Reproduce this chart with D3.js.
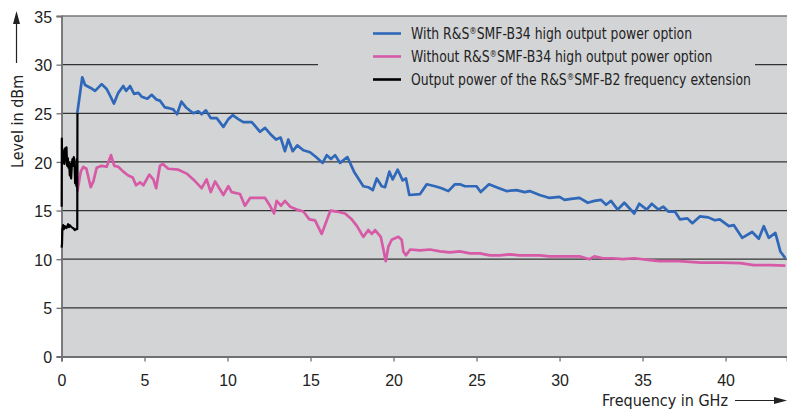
<!DOCTYPE html>
<html>
<head>
<meta charset="utf-8">
<script src="https://cdn.jsdelivr.net/npm/d3@7"></script>
<style>
  html, body { margin: 0; padding: 0; background: #fff; }
  svg { display: block; font-family: "DejaVu Sans Condensed", "DejaVu Sans", sans-serif; }
</style>
</head>
<body>
<div id="chart"></div>
<script>
// [GHz, dBm]
const withB34 = [
  [0.95, 25.0], [1.25, 28.7], [1.42, 27.9], [1.76, 27.6], [2.02, 27.3], [2.42, 28.0], [2.72, 27.5],
  [2.96, 26.7], [3.16, 26.0], [3.42, 27.1], [3.72, 27.8], [3.89, 27.3], [4.13, 27.8], [4.37, 27.0],
  [4.63, 27.1], [4.83, 26.7], [5.17, 26.5], [5.43, 26.9], [5.73, 26.4], [5.93, 26.3], [6.23, 25.6],
  [6.54, 25.5], [6.73, 25.4], [6.96, 24.9], [7.22, 26.2], [7.5, 25.6], [7.94, 25.0], [8.24, 25.2],
  [8.44, 24.9], [8.7, 25.3], [8.99, 24.5], [9.35, 24.5], [9.75, 23.6], [10.05, 24.4], [10.31, 24.8],
  [10.65, 24.4], [10.95, 24.1], [11.46, 24.1], [11.96, 23.1], [12.26, 23.5], [12.56, 22.9],
  [12.92, 22.3], [13.2, 22.5], [13.46, 21.1], [13.66, 22.3], [13.93, 21.1], [14.2, 21.7],
  [14.57, 21.2], [14.97, 21.0], [15.33, 20.5], [15.73, 19.9], [15.98, 20.7], [16.23, 20.3],
  [16.48, 20.7], [16.78, 19.9], [17.22, 20.5], [17.62, 19.0], [17.88, 18.3], [18.18, 17.5],
  [18.48, 17.4], [18.75, 17.1], [18.99, 18.3], [19.29, 17.5], [19.49, 17.4], [19.75, 19.0],
  [19.95, 18.2], [20.25, 19.2], [20.55, 18.1], [20.75, 18.3], [20.95, 16.6], [21.6, 16.7],
  [22.0, 17.7], [22.5, 17.5], [22.9, 17.3], [23.3, 17.0], [23.7, 17.7], [24.0, 17.7], [24.3, 17.5],
  [25.0, 17.5], [25.25, 16.9], [25.75, 17.7], [26.2, 17.4], [26.8, 17.0], [27.4, 17.1], [27.9, 16.9],
  [28.2, 17.0], [28.8, 16.6], [29.4, 16.3], [30.0, 16.4], [30.3, 16.1], [30.7, 16.2], [31.2, 16.3],
  [31.7, 15.8], [32.1, 16.0], [32.5, 16.1], [32.8, 15.6], [33.1, 16.0], [33.5, 15.1], [33.9, 15.8],
  [34.5, 14.7], [34.8, 15.7], [35.25, 15.1], [35.55, 15.7], [35.95, 15.1], [36.25, 15.4],
  [36.55, 14.9], [36.95, 14.9], [37.25, 14.1], [37.7, 14.2], [38.0, 13.7], [38.45, 14.4],
  [38.96, 14.3], [39.35, 14.0], [39.65, 14.1], [40.2, 13.4], [40.5, 13.5], [41.0, 12.2],
  [41.6, 12.8], [42.0, 12.1], [42.3, 13.4], [42.6, 12.2], [43.0, 12.7], [43.3, 10.8], [43.6, 10.1]
];

const withoutB34 = [
  [0.95, 16.9], [1.16, 19.0], [1.31, 19.5], [1.5, 19.3], [1.76, 17.4], [1.92, 18.0], [2.12, 19.4],
  [2.42, 19.6], [2.72, 19.5], [2.98, 20.7], [3.18, 19.6], [3.42, 19.5], [3.72, 19.0], [4.02, 18.6],
  [4.29, 18.4], [4.49, 17.6], [4.73, 17.9], [4.93, 17.6], [5.29, 18.7], [5.53, 18.2], [5.7, 17.3],
  [5.93, 19.6], [6.1, 19.8], [6.43, 19.3], [7.04, 19.2], [7.54, 18.8], [7.94, 18.2], [8.44, 17.3],
  [8.74, 18.2], [8.99, 16.9], [9.25, 18.0], [9.75, 16.6], [10.05, 17.5], [10.25, 16.9], [10.75, 16.7],
  [11.05, 15.5], [11.36, 16.3], [11.86, 16.3], [12.26, 16.3], [12.52, 15.6], [12.8, 14.7],
  [12.96, 16.0], [13.22, 15.5], [13.46, 16.0], [13.77, 15.4], [14.17, 15.1], [14.57, 14.9],
  [14.93, 14.1], [15.27, 14.0], [15.67, 12.6], [15.98, 14.0], [16.2, 15.0], [16.58, 14.9],
  [17.08, 14.7], [17.48, 14.1], [17.8, 13.4], [18.18, 12.3], [18.48, 13.0], [18.69, 12.6],
  [18.89, 13.0], [19.23, 12.3], [19.39, 11.0], [19.53, 9.8], [19.69, 11.3], [19.89, 12.0],
  [20.29, 12.3], [20.49, 12.0], [20.59, 10.8], [20.75, 10.4], [21.0, 11.0], [21.6, 10.9],
  [22.2, 11.0], [22.8, 10.8], [23.4, 10.7], [24.0, 10.8], [24.6, 10.6], [25.2, 10.6], [25.8, 10.4],
  [26.4, 10.4], [27.0, 10.5], [27.6, 10.4], [28.2, 10.4], [28.8, 10.4], [29.4, 10.3], [30.0, 10.3],
  [30.6, 10.3], [31.2, 10.3], [31.8, 10.0], [32.1, 10.3], [32.6, 10.1], [33.2, 10.1], [33.8, 10.0],
  [34.5, 10.1], [35.45, 9.9], [36.0, 9.8], [37.2, 9.8], [38.5, 9.65], [39.7, 9.65], [40.9, 9.6],
  [41.7, 9.4], [42.7, 9.4], [43.6, 9.35]
];

// frequency extension (< 1 GHz), two traces
const b2High = [
  [0.01, 15.4], [0.02, 22.4], [0.04, 19.8], [0.07, 21.3], [0.1, 20.4], [0.14, 21.0], [0.18, 19.8],
  [0.22, 21.4], [0.26, 20.2], [0.3, 21.5], [0.34, 19.6], [0.38, 20.4], [0.42, 19.4], [0.46, 19.9],
  [0.5, 18.6], [0.54, 19.8], [0.58, 18.3], [0.62, 19.6], [0.66, 20.3], [0.7, 19.6], [0.74, 20.5],
  [0.78, 20.1], [0.82, 17.8], [0.86, 18.6], [0.9, 17.5], [0.93, 20.3], [0.95, 17.0]
];
const b2Low = [
  [0.01, 11.2], [0.03, 11.6], [0.05, 13.0], [0.1, 13.5], [0.15, 13.1], [0.2, 13.4], [0.3, 13.2],
  [0.4, 13.6], [0.45, 13.3], [0.5, 13.5], [0.6, 13.3], [0.7, 13.2], [0.8, 13.0], [0.9, 13.1],
  [0.95, 13.1], [0.96, 25.0]
];

const xTicks = [0, 5, 10, 15, 20, 25, 30, 35, 40];
const yTicks = [0, 5, 10, 15, 20, 25, 30, 35];
const legendLabels = [
  "With R&S®SMF-B34 high output power option",
  "Without R&S®SMF-B34 high output power option",
  "Output power of the R&S®SMF-B2 frequency extension"
];
const legendColors = ["#2f68b8", "#d65aa6", "#000000"];

const width = 787, height = 412;
const x = d3.scaleLinear().domain([0, 43.7]).range([61.5, 787]);
const y = d3.scaleLinear().domain([0, 35]).range([356.5, 16]);

const svg = d3.select("#chart").append("svg")
  .attr("width", width)
  .attr("height", height);

// plot background
svg.append("rect")
  .attr("x", x(0)).attr("y", y(35))
  .attr("width", width - x(0)).attr("height", y(0) - y(35))
  .attr("fill", "#d3d4d6");

// gridlines
svg.append("g")
  .selectAll("line")
  .data(yTicks.filter(d => d > 0 && d < 35))
  .enter().append("line")
  .attr("x1", x(0)).attr("x2", width)
  .attr("y1", d => y(d)).attr("y2", d => y(d))
  .attr("stroke", "#333")
  .attr("stroke-width", 1.3);

// legend box hides the gridline behind it
svg.append("rect")
  .attr("x", 318).attr("y", 17)
  .attr("width", 437).attr("height", 76)
  .attr("fill", "#d3d4d6");

svg.append("line")
  .attr("x1", x(0)).attr("x2", width)
  .attr("y1", y(35)).attr("y2", y(35))
  .attr("stroke", "#777").attr("stroke-width", 1.5);

// axes
const yAxis = svg.append("g")
  .attr("transform", `translate(${x(0)},0)`)
  .call(d3.axisLeft(y).tickValues(yTicks).tickSize(5).tickPadding(5));
const xAxis = svg.append("g")
  .attr("transform", `translate(0,${y(0)})`)
  .call(d3.axisBottom(x).tickValues(xTicks).tickSize(5).tickPadding(12));

[yAxis, xAxis].forEach(a => {
  a.select(".domain").attr("stroke", "#707070").attr("stroke-width", 1.8);
  a.selectAll(".tick line").attr("stroke", "#707070").attr("stroke-width", 1.3);
  a.selectAll(".tick text")
    .attr("fill", "#222")
    .attr("transform", "scale(0.94,1)")
    .style("font-size", "17px")
    .style("font-family", null);
});
yAxis.selectAll(".tick text").attr("dy", "0.36em");

// series
const line = d3.line()
  .x(d => x(d[0]))
  .y(d => y(d[1]));

const series = [
  { data: b2High, color: "#000", w: 2.2 },
  { data: withoutB34, color: legendColors[1], w: 2.7 },
  { data: withB34, color: legendColors[0], w: 2.7 },
  { data: b2Low, color: "#000", w: 2.2 }
];
svg.append("g")
  .selectAll("path")
  .data(series)
  .enter().append("path")
  .attr("d", d => line(d.data))
  .attr("fill", "none")
  .attr("stroke", d => d.color)
  .attr("stroke-width", d => d.w)
  .attr("stroke-linejoin", "round");

// legend
const legend = svg.append("g")
  .selectAll("g")
  .data(legendLabels)
  .enter().append("g")
  .attr("transform", (d, i) => `translate(373,${33.5 + i * 23})`);
legend.append("line")
  .attr("x1", 0).attr("x2", 28)
  .attr("stroke", (d, i) => legendColors[i])
  .attr("stroke-width", 2.6);
const legendText = legend.append("text")
  .attr("transform", "translate(38,5.5) scale(0.92,1)")
  .attr("fill", "#222")
  .style("font-size", "15px");
// small raised registered sign
legendText.each(function(d) {
  const parts = d.split("®");
  const t = d3.select(this);
  t.append("tspan").text(parts[0]);
  t.append("tspan").attr("dy", -5).style("font-size", "9px").text("®");
  t.append("tspan").attr("dy", 5).text(parts[1]);
});

// axis titles with arrows
svg.append("text")
  .attr("transform", "translate(23,168) rotate(-90)")
  .attr("fill", "#222")
  .style("font-size", "16px")
  .text("Level in dBm");
svg.append("line")
  .attr("x1", 16.5).attr("x2", 16.5).attr("y1", 63).attr("y2", 22)
  .attr("stroke", "#222").attr("stroke-width", 1.2);
svg.append("path")
  .attr("d", "M16.5,11 L13,24 L20,24 Z")
  .attr("fill", "#222");

svg.append("text")
  .attr("x", 728).attr("y", 406)
  .attr("text-anchor", "end")
  .attr("fill", "#222")
  .style("font-size", "16px")
  .text("Frequency in GHz");
svg.append("line")
  .attr("x1", 735).attr("x2", 776).attr("y1", 400.5).attr("y2", 400.5)
  .attr("stroke", "#222").attr("stroke-width", 1.2);
svg.append("path")
  .attr("d", "M787,400.5 L774,397 L774,404 Z")
  .attr("fill", "#222");
</script>
</body>
</html>
